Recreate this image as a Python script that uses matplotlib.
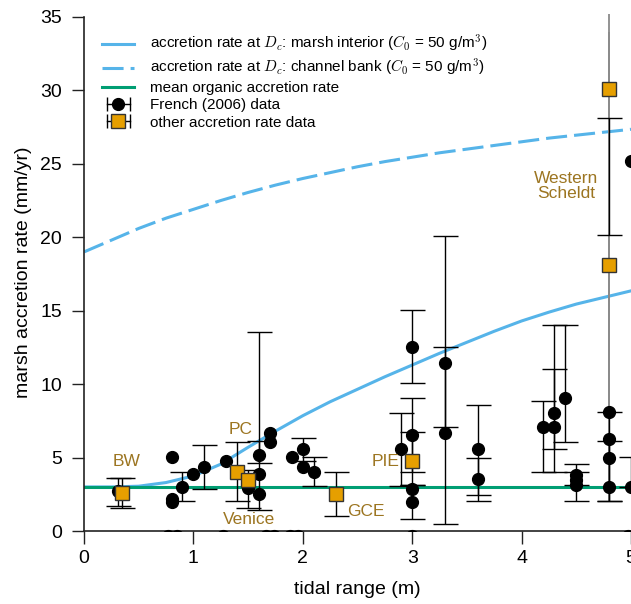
import numpy as np
import matplotlib
matplotlib.use("Agg")
import matplotlib.pyplot as plt
from matplotlib.lines import Line2D
from matplotlib.legend_handler import HandlerLine2D, HandlerTuple

plt.rcParams['font.family'] = ['Liberation Sans', 'DejaVu Sans']
plt.rcParams['mathtext.fontset'] = 'cm'

# model curves
curve_x = [0, 0.25, 0.5, 0.75, 1.0, 1.25, 1.5, 1.75, 2.0, 2.25, 2.5,
           2.75, 3.0, 3.25, 3.5, 3.75, 4.0, 4.25, 4.5, 4.75, 5.0]
interior_y = [3.0, 3.0, 3.05, 3.3, 3.75, 4.55, 5.7, 6.8, 7.85, 8.8, 9.65,
              10.5, 11.3, 12.1, 12.85, 13.6, 14.3, 14.9, 15.45, 15.9, 16.35]
bank_y = [19.0, 19.8, 20.6, 21.3, 21.9, 22.5, 23.05, 23.55, 24.0, 24.4, 24.8,
          25.15, 25.45, 25.75, 26.0, 26.25, 26.5, 26.75, 26.95, 27.15, 27.35]
organic_rate = 3.0

# French (2006) data: x, y, lower, upper (None = no error bar)
french_x = [0.31, 0.8, 0.8, 0.8, 0.9, 1.0, 1.1, 1.3, 1.5, 1.6, 1.6, 1.6, 1.7, 1.7,
            1.9, 2.0, 2.0, 2.1, 2.9, 3.0, 3.0, 3.0, 3.0, 3.3, 3.3, 3.6, 3.6,
            4.2, 4.3, 4.3, 4.4, 4.5, 4.5, 4.5, 4.8, 4.8, 4.8, 4.8, 5.0, 5.0]
french_y = [2.7, 5.05, 2.2, 2.0, 3.0, 3.9, 4.35, 4.75, 2.9, 5.15, 3.85, 2.55, 6.7, 6.05,
            5.05, 5.55, 4.35, 4.05, 5.55, 12.55, 6.55, 2.85, 1.95, 11.45, 6.65, 5.55, 3.55,
            7.05, 8.05, 7.05, 9.05, 3.8, 3.45, 3.1, 8.1, 6.25, 4.95, 3.0, 25.2, 3.0]
french_lo = [1.7, None, None, None, 2.05, None, 2.85, None, None, 4.6, 1.45, None, None, None,
             None, 4.75, None, 3.05, 3.05, 10.05, 4.05, None, 0.85, 7.05, 0.5, 2.45, 2.05,
             4.05, 5.55, 4.05, 6.05, 3.1, 2.05, None, None, None, 2.05, 2.05, None, 3.0]
french_hi = [3.6, None, None, None, 4.0, None, 5.85, None, None, 6.1, 13.55, None, None, None,
             None, 6.35, None, 5.05, 8.05, 15.05, 9.05, None, 3.1, 12.55, 20.1, 8.55, 4.95,
             8.85, 11.05, 14.05, 14.05, 4.55, 4.05, None, None, None, 8.1, 6.1, None, 5.05]
# bar visible without a marker
extra_bar_x = [4.8]
extra_bar_lo = [20.15]
extra_bar_hi = [28.15]
# points sitting just below the axis
low_x = [0.77, 0.85, 1.27, 1.66, 1.74, 1.88, 1.96, 3.0, 4.97]
low_y = [-0.32] * len(low_x)

# other accretion rate data
other_names = ['BW', 'PC', 'Venice', 'GCE', 'PIE', 'WS1', 'WS2']
other_x = [0.35, 1.4, 1.5, 2.3, 3.0, 4.8, 4.8]
other_y = [2.6, 4.05, 3.5, 2.5, 4.75, 30.1, 18.1]
other_lo = [1.6, 2.05, 1.55, 1.0, 3.1, 2.0, 2.0]
other_hi = [3.6, 6.05, 4.15, 4.0, 6.75, 58.0, 34.0]

site_labels = ['BW', 'PC', 'Venice', 'GCE', 'PIE', 'Western\nScheldt']
site_lx = [0.39, 1.43, 1.51, 2.58, 2.76, 4.41]
site_ly = [4.7, 6.9, 0.75, 1.36, 4.7, 23.5]

blue = '#56B4E9'
green = '#009E73'
orange = '#E69F00'
brown = '#9C7521'

fig = plt.figure(figsize=(6.31, 6.04), dpi=100)
ax = fig.add_axes([84 / 631, 73 / 604, 547 / 631, 517 / 604])

h1, = ax.plot(curve_x, interior_y, color=blue, lw=2.2, zorder=2)
h2, = ax.plot(curve_x, bank_y, color=blue, lw=2.2, dashes=(6.9, 2.3), zorder=2)
h3, = ax.plot([0, 5], [organic_rate, organic_rate], color=green, lw=2.2, zorder=2)

# French error bars
ex, ey, elo, ehi = [], [], [], []
for x, y, lo, hi in zip(french_x, french_y, french_lo, french_hi):
    if lo is not None:
        ex.append(x); ey.append(y); elo.append(y - lo); ehi.append(hi - y)
ax.errorbar(ex, ey, yerr=[elo, ehi], fmt='none', ecolor='black', elinewidth=1.0,
            capsize=9, capthick=1.0, zorder=3)
mid = [(a + b) / 2 for a, b in zip(extra_bar_lo, extra_bar_hi)]
ax.errorbar(extra_bar_x, mid, yerr=[[m - a for m, a in zip(mid, extra_bar_lo)],
                                    [b - m for m, b in zip(mid, extra_bar_hi)]],
            fmt='none', ecolor='black', elinewidth=1.0, capsize=9, capthick=1.0, zorder=3)
ax.plot(french_x, french_y, 'o', color='black', ms=8.5, zorder=4, clip_on=False)
ax.plot(low_x, low_y, 'o', color='black', ms=8.5, zorder=4)

# other data
for name, x, y, lo, hi in zip(other_names, other_x, other_y, other_lo, other_hi):
    ws = name.startswith('WS')
    ax.errorbar([x], [y], yerr=[[y - lo], [hi - y]], fmt='none',
                ecolor='#8a8a8a' if ws else 'black', elinewidth=1.3 if ws else 1.0,
                capsize=0 if ws else 9, capthick=1.0, zorder=3 if not ws else 2.5)
ax.plot(other_x, other_y, 's', color=orange, mec='#333333', mew=1.0, ms=10, zorder=5)

for t, x, y in zip(site_labels, site_lx, site_ly):
    ax.text(x, y, t, color=brown, fontsize=12.5, ha='center', va='center',
            linespacing=1.0, zorder=6)

# legend proxies: horizontal bar with end caps plus marker
cap_line = Line2D([], [], color='black', lw=1.0, marker='|', ms=10, mew=1.0)
dot = Line2D([], [], ls='none', marker='o', color='black', ms=8.5)
sq = Line2D([], [], ls='none', marker='s', mfc=orange, mec='#333333', mew=1.0, ms=10)
handles = [h1, h2, h3, (cap_line, dot), (cap_line, sq)]
labels = [r'accretion rate at $D_c$: marsh interior ($C_0$ = 50 g/m$^3$)',
          r'accretion rate at $D_c$: channel bank ($C_0$ = 50 g/m$^3$)',
          'mean organic accretion rate',
          'French (2006) data',
          'other accretion rate data']
ax.legend(handles, labels, loc='upper left', frameon=False, fontsize=11,
          bbox_to_anchor=(0.022, 0.975), handlelength=2.1, handletextpad=1.0,
          labelspacing=0.2, borderaxespad=0,
          handler_map={cap_line: HandlerLine2D(numpoints=2),
                       dot: HandlerLine2D(numpoints=1),
                       sq: HandlerLine2D(numpoints=1),
                       tuple: HandlerTuple(ndivide=1)})

ax.set_xlim(0, 5)
ax.set_ylim(0, 35.2)
ax.set_xticks([0, 1, 2, 3, 4, 5])
ax.set_yticks([0, 5, 10, 15, 20, 25, 30, 35])
for s in ['top', 'right']:
    ax.spines[s].set_visible(False)
ax.spines['left'].set_bounds(0, 35)
for s in ['left', 'bottom']:
    ax.spines[s].set_linewidth(1.2)
    ax.spines[s].set_color('#222222')
ax.tick_params(direction='out', length=9, width=1.0, labelsize=14, colors='#222222',
               labelcolor='black', pad=5)
ax.tick_params(axis='y', pad=7)
ax.set_xlabel('tidal range (m)', fontsize=14, labelpad=10)
ax.set_ylabel('marsh accretion rate (mm/yr)', fontsize=14, labelpad=6)

fig.savefig('out.png', dpi=100)
